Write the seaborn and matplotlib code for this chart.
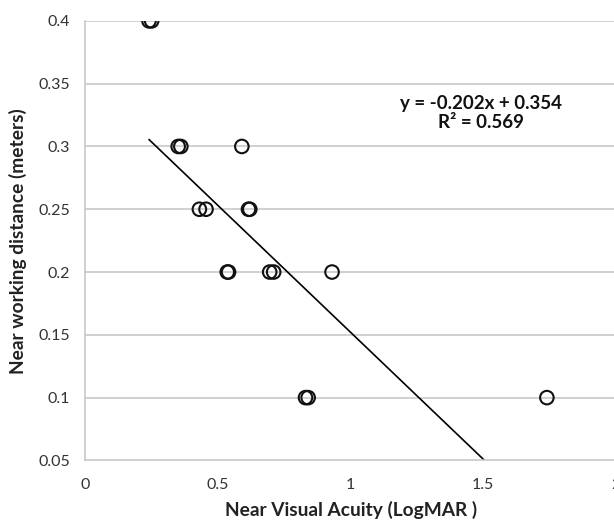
import matplotlib
matplotlib.use("Agg")
import matplotlib.pyplot as plt
import seaborn as sns
import numpy as np
import pandas as pd

# Data
acuity = [0.24, 0.25, 0.35, 0.36, 0.59, 0.43, 0.455, 0.615, 0.62,
          0.535, 0.54, 0.695, 0.71, 0.93, 0.83, 0.84, 1.74]
distance = [0.40, 0.40, 0.30, 0.30, 0.30, 0.25, 0.25, 0.25, 0.25,
            0.20, 0.20, 0.20, 0.20, 0.20, 0.10, 0.10, 0.10]
slope = -0.202
intercept = 0.354
equation_text = "y = -0.202x + 0.354\nR² = 0.569"
x_ticks = [0, 0.5, 1, 1.5, 2]
x_tick_labels = ["0", "0.5", "1", "1.5", "2"]
y_ticks = [0.05, 0.1, 0.15, 0.2, 0.25, 0.3, 0.35, 0.4]
y_tick_labels = ["0.05", "0.1", "0.15", "0.2", "0.25", "0.3", "0.35", "0.4"]

df = pd.DataFrame({"x": acuity, "y": distance})
trend_x = [min(acuity), max(acuity)]
trend = pd.DataFrame({"x": trend_x, "y": [slope * v + intercept for v in trend_x]})

sns.set_theme(style="white")
plt.rcParams["font.family"] = ["Lato", "DejaVu Sans"]

fig = plt.figure(figsize=(6.14, 5.22), dpi=100)
ax = fig.add_axes([0.139, 0.118, 0.864, 0.842])

grid_c = "#c4c4c4"
for yv in y_ticks[1:]:
    ax.axhline(yv, color=grid_c, lw=1.1, zorder=0)

sns.lineplot(data=trend, x="x", y="y", color="black", lw=1.2, ax=ax, zorder=2)
sns.scatterplot(data=df, x="x", y="y", marker="o", s=95,
                facecolor="none", edgecolor="#111111", linewidth=1.5,
                ax=ax, zorder=3)

ax.set_xlim(0, 2)
ax.set_ylim(0.05, 0.4)
ax.set_xticks(x_ticks)
ax.set_xticklabels(x_tick_labels)
ax.set_yticks(y_ticks)
ax.set_yticklabels(y_tick_labels)

for side in ["top", "right"]:
    ax.spines[side].set_visible(False)
for side in ["left", "bottom"]:
    ax.spines[side].set_color(grid_c)
    ax.spines[side].set_linewidth(1.1)

ax.tick_params(axis="both", which="major", direction="out", length=5,
               width=1.1, color=grid_c, labelsize=11.5, labelcolor="#333333")
ax.tick_params(axis="x", pad=8)
ax.tick_params(axis="y", pad=6)

ax.set_xlabel("Near Visual Acuity (LogMAR )", fontsize=13.8,
              fontweight="bold", color="#222222", labelpad=6)
ax.set_ylabel("Near working distance (meters)", fontsize=13.8,
              fontweight="bold", color="#222222", labelpad=8)

ax.text(1.49, 0.3265, equation_text, ha="center", va="center",
        fontsize=13.5, fontweight="bold", color="#111111",
        linespacing=1.15, zorder=4)

for lbl in ax.get_xticklabels():
    lbl.set_clip_on(False)

fig.savefig("out.png", dpi=100)
